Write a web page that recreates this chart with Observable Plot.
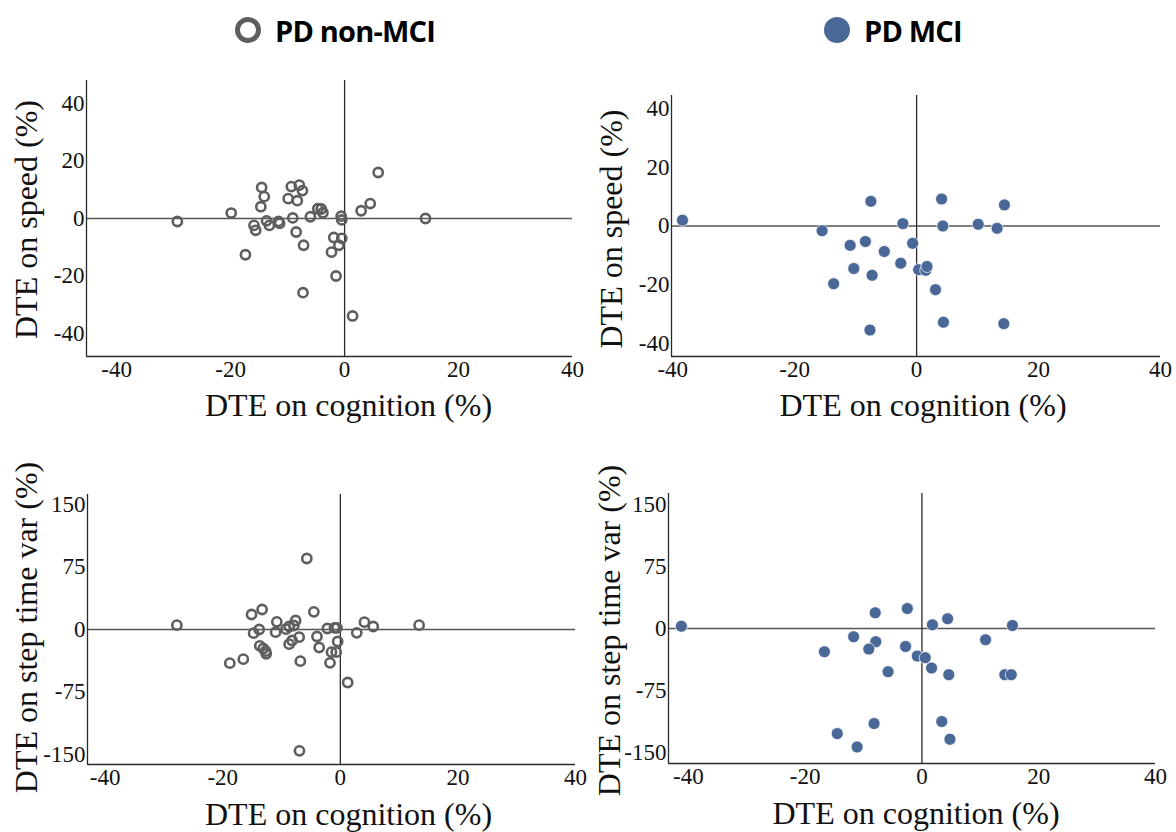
<!DOCTYPE html>
<html>
<head>
<meta charset="utf-8">
<script src="https://cdn.jsdelivr.net/npm/d3@7"></script>
<script src="https://cdn.jsdelivr.net/npm/@observablehq/plot@0.6"></script>
<style>
  html, body { margin: 0; padding: 0; background: #fff; }
  #root { position: relative; width: 1176px; height: 832px; overflow: hidden; }
  .panel { position: absolute; }
  .panel svg { overflow: visible; }
  .legend { position: absolute; top: 0; height: 60px; display: flex; align-items: center;
            font-family: "Open Sans", sans-serif; font-weight: 700; font-size: 29px; color: #000; letter-spacing: -0.8px; }
  .legend svg { margin-right: 13px; }
</style>
</head>
<body>
<div id="root"></div>
<script>
// ---- Data ----
// Panel A: PD non-MCI, DTE on cognition vs DTE on speed
const nonMciSpeedCog = [-29.35,-19.9,-14.56,-14.1,-14.7,-15.9,-15.6,-13.7,-13.2,-11.6,-11.4,-17.4,-9.9,-9.35,-7.95,-7.4,-8.3,-9.1,-8.5,-7.2,-7.3,-6.0,-4.7,-4.1,-3.8,-0.6,-0.5,-1.9,-0.5,-1.0,-2.3,-1.5,1.4,2.9,4.5,5.9,14.2];
const nonMciSpeed    = [-1.05,1.9,10.8,7.6,4.1,-2.4,-4.1,-0.8,-2.4,-1.0,-1.7,-12.6,6.9,11.1,11.6,9.7,6.2,0.2,-4.7,-9.3,-25.8,0.6,3.4,3.3,2.0,0.8,-0.5,-6.6,-6.9,-9.3,-11.7,-20.0,-33.9,2.7,5.2,16.0,0.0];
// Panel B: PD MCI, DTE on cognition vs DTE on speed
const mciSpeedCog = [-38.4,-15.5,-10.9,-8.4,-10.3,-13.6,-7.5,-7.3,-7.65,-5.3,-2.6,-2.25,-0.65,0.33,1.5,1.7,3.1,4.1,4.3,4.4,10.1,13.2,14.4,14.3];
const mciSpeed    = [2.0,-1.6,-6.6,-5.3,-14.5,-19.7,8.4,-16.8,-35.5,-8.7,-12.7,0.8,-5.9,-14.9,-15.1,-13.8,-21.7,9.2,0.0,-32.8,0.6,-0.8,7.2,-33.3];
// Panel C: PD non-MCI, DTE on cognition vs DTE on step time variability
const nonMciVarCog = [-27.8,-18.8,-16.5,-15.1,-13.3,-14.75,-13.8,-13.7,-13.1,-12.7,-12.6,-11.0,-10.8,-9.25,-8.7,-7.9,-7.6,-8.7,-8.2,-7.0,-6.8,-6.95,-5.7,-4.5,-3.97,-3.6,-2.2,-1.0,-0.57,-0.45,-1.5,-0.7,-1.75,1.25,2.8,4.1,5.6,13.4];
const nonMciVar    = [5.2,-40.4,-35.6,18.0,24.0,-4.4,0,-19.6,-22.8,-26,-29.2,-3.2,9.2,0.4,3.6,4.8,10.8,-17.6,-13.2,-9.2,-38,-145.6,85.2,21.2,-8.4,-21.6,1.2,2.0,2.0,-14.4,-27.2,-27.2,-40,-63.6,-4.0,8.8,3.6,5.2];
// Panel D: PD MCI, DTE on cognition vs DTE on step time variability
const mciVarCog = [-41.2,-16.7,-14.5,-11.7,-11.1,-8.0,-7.9,-9.1,-8.2,-5.8,-2.8,-2.5,-0.8,0.56,1.65,1.8,3.4,4.4,4.6,4.8,10.9,14.2,15.3,15.5];
const mciVar    = [2.8,-28.1,-126.9,-10,-143,18.9,-16,-24.9,-114.8,-52.2,-21.7,24.1,-33.3,-35.3,-47.8,4.4,-112.4,11.7,-55.8,-133.7,-13.6,-55.8,-55.8,3.6];

// Tick labels
const xTicks = [-40, -20, 0, 20, 40];
const speedTicks = [-40, -20, 0, 20, 40];
const varTicks = [-150, -75, 0, 75, 150];

// Axis titles & legend
const xTitle = "DTE on cognition (%)";
const speedTitle = "DTE on speed (%)";
const varTitle = "DTE on step time var (%)";
const groups = ["PD non-MCI", "PD MCI"];

// Domains
const domA = {x: [-45.3, 40], y: [-48, 48]};
const domB = {x: [-40.2, 40], y: [-44.5, 44.5]};
const domC = {x: [-43, 40], y: [-162, 162]};
const domD = {x: [-43.4, 40], y: [-163, 163]};

const GRAY = "#5d5e60";
const BLUE = "#4a6897";
const AXIS = "#2a2a2a";

const root = document.getElementById("root");

function legendItem(label, filled, left) {
  const div = document.createElement("div");
  div.className = "legend";
  div.style.left = left + "px";
  const ns = "http://www.w3.org/2000/svg";
  const s = document.createElementNS(ns, "svg");
  s.setAttribute("width", 28); s.setAttribute("height", 28);
  const c = document.createElementNS(ns, "circle");
  c.setAttribute("cx", 14); c.setAttribute("cy", 14);
  if (filled) { c.setAttribute("r", 13); c.setAttribute("fill", BLUE); }
  else { c.setAttribute("r", 10.5); c.setAttribute("fill", "none"); c.setAttribute("stroke", GRAY); c.setAttribute("stroke-width", 5); }
  s.appendChild(c);
  div.appendChild(s);
  const t = document.createElement("span");
  t.textContent = label;
  div.appendChild(t);
  root.appendChild(div);
}
legendItem(groups[0], false, 234);
legendItem(groups[1], true, 823);

function panel({xs, ys, dom, yTicks, yTitle, filled, left, top, width, height, mL, mR, mT, mB, xdx, xdy, ydx, ydy}) {
  const data = xs.map((x, i) => ({x, y: ys[i]}));
  const dots = filled
    ? Plot.dot(data, {x: "x", y: "y", r: 6, fill: BLUE, stroke: "white", strokeWidth: 0.7})
    : Plot.dot(data, {x: "x", y: "y", r: 4.6, fill: "none", stroke: GRAY, strokeWidth: 2.6});
  const p = Plot.plot({
    width, height,
    marginLeft: mL, marginRight: mR, marginTop: mT, marginBottom: mB,
    x: {domain: dom.x},
    y: {domain: dom.y},
    style: {fontFamily: "'Liberation Serif', 'DejaVu Serif', serif", fontSize: "23px", color: "#111", background: "transparent", overflow: "visible"},
    marks: [
      Plot.axisX({ticks: xTicks, tickSize: 0, tickPadding: 4, label: null, fontSize: 23, tickFormat: d => String(d)}),
      Plot.axisY({ticks: yTicks, tickSize: 0, tickPadding: 2, label: null, fontSize: 23, tickFormat: d => String(d)}),
      Plot.ruleY([0], {stroke: "#555", strokeWidth: 1.3}),
      Plot.ruleX([0], {stroke: AXIS, strokeWidth: 1.3}),
      Plot.ruleX([dom.x[0]], {stroke: AXIS, strokeWidth: 1.3}),
      Plot.ruleY([dom.y[0]], {stroke: AXIS, strokeWidth: 1.3}),
      dots,
      Plot.text([xTitle], {text: d => d, frameAnchor: "bottom", textAnchor: "middle", dx: xdx, dy: xdy, lineAnchor: "bottom", fontSize: 32, fill: "#111"}),
      Plot.text([yTitle], {text: d => d, frameAnchor: "left", textAnchor: "middle", rotate: -90, dx: ydx, dy: ydy, lineAnchor: "bottom", fontSize: 32, fill: "#111"})
    ]
  });
  const wrap = document.createElement("div");
  wrap.className = "panel";
  wrap.style.left = left + "px";
  wrap.style.top = top + "px";
  wrap.appendChild(p);
  root.appendChild(wrap);
}

panel({xs: nonMciSpeedCog, ys: nonMciSpeed, dom: domA, yTicks: speedTicks, yTitle: speedTitle, filled: false,
  left: 0, top: 60, width: 590, height: 380, mL: 86, mR: 18, mT: 20, mB: 84, xdx: 19, xdy: 59, ydx: -50, ydy: 1});
panel({xs: mciSpeedCog, ys: mciSpeed, dom: domB, yTicks: speedTicks, yTitle: speedTitle, filled: true,
  left: 590, top: 60, width: 586, height: 380, mL: 81, mR: 16, mT: 35, mB: 84, xdx: 7, xdy: 59, ydx: -50, ydy: 3});
panel({xs: nonMciVarCog, ys: nonMciVar, dom: domC, yTicks: varTicks, yTitle: varTitle, filled: false,
  left: 0, top: 440, width: 590, height: 392, mL: 87, mR: 15, mT: 54, mB: 68, xdx: 17, xdy: 60, ydx: -51, ydy: -2});
panel({xs: mciVarCog, ys: mciVar, dom: domD, yTicks: varTicks, yTitle: varTitle, filled: true,
  left: 590, top: 440, width: 586, height: 392, mL: 78, mR: 21, mT: 53, mB: 69, xdx: 4, xdy: 60, ydx: -49, ydy: 2});
</script>
</body>
</html>
